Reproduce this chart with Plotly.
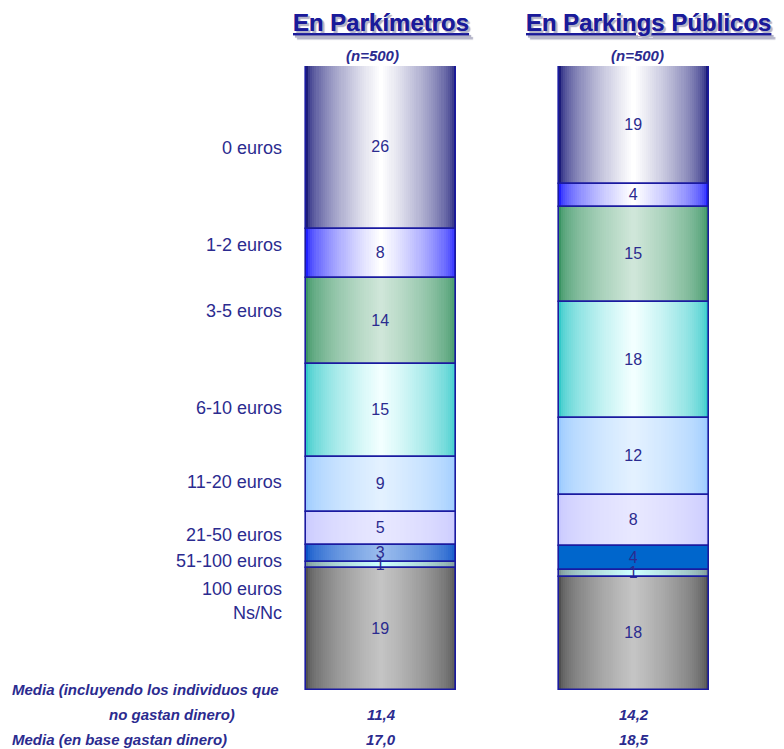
import plotly.graph_objects as go

# ---------------- data ----------------
bar_titles = ["En Parkímetros", "En Parkings Públicos"]
bar_samples = ["(n=500)", "(n=500)"]
categories = ["0 euros", "1-2 euros", "3-5 euros", "6-10 euros", "11-20 euros",
              "21-50 euros", "51-100 euros", "100 euros", "Ns/Nc"]
park_pct = [26.1, 7.9, 13.8, 14.9, 8.8, 5.3, 2.7, 1.0, 19.5]
pub_pct = [18.9, 3.7, 15.2, 18.6, 12.3, 8.3, 3.8, 1.1, 18.1]
park_labels = ["26", "8", "14", "15", "9", "5", "3", "1", "19"]
pub_labels = ["19", "4", "15", "18", "12", "8", "4", "1", "18"]
media_row_1a = "Media (incluyendo los individuos que"
media_row_1b = "no gastan dinero)"
media_row_2 = "Media (en base gastan dinero)"
media_incl = ["11,4", "14,2"]
media_base = ["17,0", "18,5"]

# ---------------- styles ----------------
park_colors = [("#1c1c7a", "#ffffff"), ("#1f1fff", "#ffffff"), ("#3a9463", "#cfe6d9"),
               ("#33c9c9", "#f2ffff"), ("#99c9ff", "#e3f1ff"), ("#c8c8ff", "#e8e8ff"),
               ("#0a52c8", "#9abced"), ("#7a9494", "#ccffff"), ("#505050", "#c4c4c4")]
pub_colors = [("#1c1c7a", "#ffffff"), ("#1f1fff", "#ffffff"), ("#3a9463", "#cfe6d9"),
              ("#33c9c9", "#f2ffff"), ("#99c9ff", "#e3f1ff"), ("#c8c8ff", "#e8e8ff"),
              ("#0066cc", "#0066cc"), ("#7a9494", "#ccffff"), ("#505050", "#c4c4c4")]
label_px = [148, 245, 311, 408, 482, 535, 561, 589, 613]  # reference pixel rows of left labels

TXT = "#2b2b8f"
TITLE = "#1a1a9a"
BORDER = "#1a1aa0"
FONT = "Liberation Sans, Arial, sans-serif"

OFF = 8                      # page body margin
W, H = 784 - OFF, 749 - OFF
TOP, BOTTOM = 66, 690        # reference pixel rows of bar top / bottom
PPU = 252.5                  # pixels per x unit
BAR_W = 150 / PPU
X0 = -(381 - OFF) / PPU
X1 = X0 + W / PPU


def px(rx):
    return (rx - OFF) / W


def py(ry):
    return (BOTTOM - ry) / (BOTTOM - TOP)


def hex2rgb(h):
    h = h.lstrip("#")
    return tuple(int(h[i:i + 2], 16) for i in (0, 2, 4))


def mix(a, b, t):
    ra, rb = hex2rgb(a), hex2rgb(b)
    return "rgb(%d,%d,%d)" % tuple(round(ra[i] + (rb[i] - ra[i]) * t) for i in range(3))


def cumbase(vals):
    out, s = [], 0.0
    for v in vals:
        out.append(s)
        s += v
    return out


park_base = cumbase(park_pct)
pub_base = cumbase(pub_pct)

fig = go.Figure()
N = 36
for i, cat in enumerate(categories):
    for k in range(N):
        t = (k / (N - 1)) ** 0.55
        fig.add_trace(go.Bar(
            x=[0, 1], y=[park_pct[i], pub_pct[i]], base=[park_base[i], pub_base[i]],
            width=BAR_W * (1 - k / N),
            marker=dict(color=[mix(park_colors[i][0], park_colors[i][1], t),
                               mix(pub_colors[i][0], pub_colors[i][1], t)],
                        line=dict(width=0)),
            hoverinfo="skip", showlegend=False))

for i, cat in enumerate(categories):
    fig.add_trace(go.Bar(
        x=[0, 1], y=[park_pct[i], pub_pct[i]], base=[park_base[i], pub_base[i]],
        width=BAR_W, name=cat,
        marker=dict(color="rgba(0,0,0,0)", line=dict(color=BORDER, width=1.6)),
        text=[park_labels[i], pub_labels[i]], textposition="inside", textangle=0,
        insidetextanchor="middle", constraintext="none", cliponaxis=False,
        textfont=dict(family=FONT, size=16, color=TXT),
        showlegend=False))

ann = []
for cat, ry in zip(categories, label_px):
    ann.append(dict(x=px(284), xref="paper", y=(ry - TOP) / (BOTTOM - TOP) * 100, yref="y",
                    text=cat, showarrow=False, xanchor="right", yanchor="middle",
                    font=dict(family=FONT, size=18, color=TXT)))

title_cx = [381, 648]
sample_cx = [372, 637]
for j, ttl in enumerate(bar_titles):
    ann.append(dict(x=px(title_cx[j]), xref="paper", y=py(22), yref="paper",
                    text="<b><u>%s</u></b>" % ttl,
                    showarrow=False, xanchor="center", yanchor="middle",
                    font=dict(family=FONT, size=24, color=TITLE,
                              shadow="2px 2px 1px #b4b4c8")))
    ann.append(dict(x=px(sample_cx[j]), xref="paper", y=py(55), yref="paper",
                    text="<b><i>%s</i></b>" % bar_samples[j],
                    showarrow=False, xanchor="center", yanchor="middle",
                    font=dict(family=FONT, size=15, color=TXT)))

bf = dict(family=FONT, size=15, color=TXT)
ann.append(dict(x=px(10), xref="paper", y=py(689), yref="paper", text="<b><i>%s</i></b>" % media_row_1a,
                showarrow=False, xanchor="left", yanchor="middle", font=bf))
ann.append(dict(x=px(237), xref="paper", y=py(714), yref="paper", text="<b><i>%s</i></b>" % media_row_1b,
                showarrow=False, xanchor="right", yanchor="middle", font=bf))
ann.append(dict(x=px(10), xref="paper", y=py(739), yref="paper", text="<b><i>%s</i></b>" % media_row_2,
                showarrow=False, xanchor="left", yanchor="middle", font=bf))
for j in range(2):
    ann.append(dict(x=j, xref="x", y=py(714), yref="paper", text="<b><i>%s</i></b>" % media_incl[j],
                    showarrow=False, xanchor="center", yanchor="middle", font=bf))
    ann.append(dict(x=j, xref="x", y=py(739), yref="paper", text="<b><i>%s</i></b>" % media_base[j],
                    showarrow=False, xanchor="center", yanchor="middle", font=bf))

fig.update_layout(
    width=W, height=H,
    margin=dict(l=0, r=0, t=TOP - OFF, b=(749 - BOTTOM) - 0, pad=0),
    paper_bgcolor="white", plot_bgcolor="white",
    barmode="overlay", bargap=0,
    xaxis=dict(range=[X0, X1], visible=False, fixedrange=True),
    yaxis=dict(range=[100, 0], visible=False, fixedrange=True),
    annotations=ann, showlegend=False,
)

fig.write_html("out.html")
